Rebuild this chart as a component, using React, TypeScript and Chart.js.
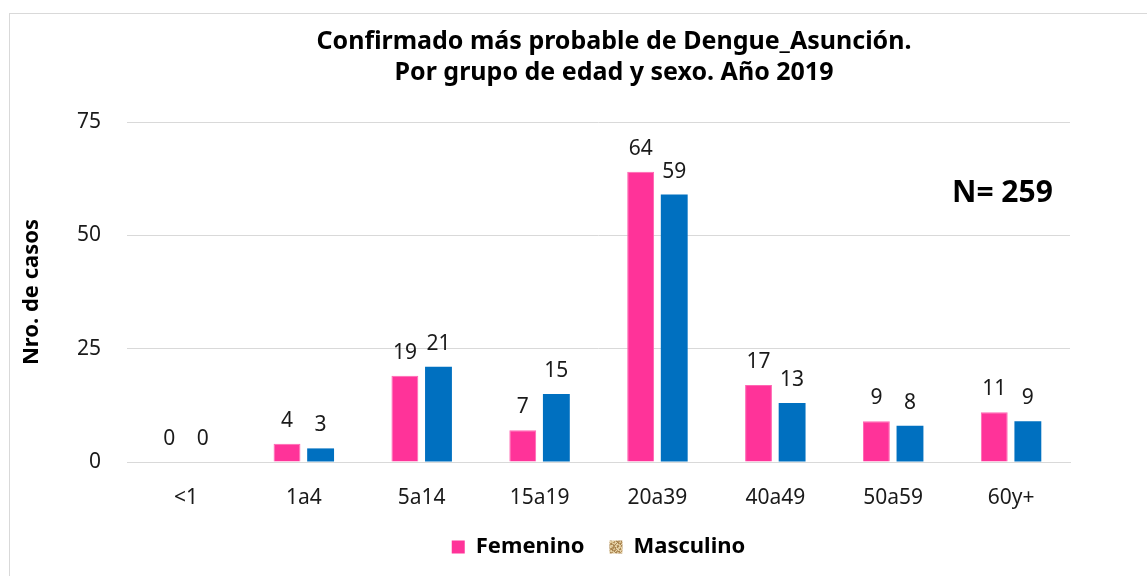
import React, { useEffect, useRef } from "react";
import { Chart, registerables } from "chart.js";

Chart.register(...registerables);

const categories = ["<1", "1a4", "5a14", "15a19", "20a39", "40a49", "50a59", "60y+"];
const femenino = [0, 4, 19, 7, 64, 17, 9, 11];
const masculino = [0, 3, 21, 15, 59, 13, 8, 9];
const yTicks = [0, 25, 50, 75];
const titleLines = ["Confirmado más probable de Dengue_Asunción.", "Por grupo de edad y sexo. Año 2019"];
const annotationText = "N= 259";
const seriesNames = ["Femenino", "Masculino"];

const FONT = "'Noto Sans', 'Open Sans', sans-serif";
const PINK = "#FF3399";
const BLUE = "#0070C0";

function makePattern(): CanvasPattern | string {
  const c = document.createElement("canvas");
  c.width = 13;
  c.height = 13;
  const g = c.getContext("2d");
  if (!g) return "#C8A878";
  const shades = ["#D8C090", "#B89460", "#E6D2A8", "#A88450"];
  for (let y = 0; y < 13; y++) {
    for (let x = 0; x < 13; x++) {
      g.fillStyle = shades[((x >> 1) + (y >> 1) * 3 + ((x * y) % 3)) % 4];
      g.fillRect(x, y, 1, 1);
    }
  }
  const ctx = document.createElement("canvas").getContext("2d");
  const p = ctx ? ctx.createPattern(c, "repeat") : null;
  return p || "#C8A878";
}

const decorPlugin = {
  id: "decor",
  beforeDraw(chart: any) {
    const ctx = chart.ctx;
    ctx.save();
    ctx.fillStyle = "#ffffff";
    ctx.fillRect(0, 0, chart.width, chart.height);
    ctx.strokeStyle = "#d9d9d9";
    ctx.lineWidth = 1;
    ctx.strokeRect(9.5, 13.5, 1400, 800);
    ctx.restore();
  },
  afterDraw(chart: any) {
    const ctx = chart.ctx;
    const area = chart.chartArea;
    ctx.save();
    // title
    ctx.fillStyle = "#000000";
    ctx.font = `bold 25px ${FONT}`;
    ctx.textAlign = "center";
    ctx.textBaseline = "middle";
    ctx.fillText(titleLines[0], 614, 42);
    ctx.fillText(titleLines[1], 614, 73);
    // annotation
    ctx.font = `bold 30px ${FONT}`;
    ctx.textAlign = "left";
    ctx.fillText(annotationText, area.right - 118, 193);
    // data labels
    ctx.font = `21px ${FONT}`;
    ctx.fillStyle = "#1a1a1a";
    ctx.textAlign = "center";
    ctx.textBaseline = "alphabetic";
    chart.data.datasets.forEach((ds: any, i: number) => {
      const meta = chart.getDatasetMeta(i);
      meta.data.forEach((bar: any, j: number) => {
        ctx.fillText(String(ds.data[j]), bar.x, bar.y - 17);
      });
    });
    ctx.restore();
  },
};

export default function App() {
  const ref = useRef<HTMLCanvasElement | null>(null);
  useEffect(() => {
    if (!ref.current) return;
    const pattern = makePattern();
    const chart = new Chart(ref.current, {
      type: "bar",
      data: {
        labels: categories,
        datasets: [
          {
            label: seriesNames[0],
            data: femenino,
            backgroundColor: PINK,
            borderColor: "#FF66B3",
            borderWidth: 1,
            categoryPercentage: 0.57,
            barPercentage: 0.8,
          },
          {
            label: seriesNames[1],
            data: masculino,
            backgroundColor: BLUE,
            borderColor: BLUE,
            borderWidth: 0,
            categoryPercentage: 0.57,
            barPercentage: 0.8,
          },
        ],
      },
      options: {
        animation: false,
        responsive: true,
        maintainAspectRatio: false,
        layout: { padding: { left: 9, right: 77, top: 122, bottom: 22 } },
        plugins: {
          title: { display: false },
          tooltip: { enabled: false },
          legend: {
            position: "bottom",
            fullSize: false,
            maxHeight: 43,
            labels: {
              font: { family: FONT, size: 22, weight: "bold" },
              color: "#000000",
              boxWidth: 13,
              boxHeight: 13,
              padding: 25,
              generateLabels: () => [
                { text: seriesNames[0], fillStyle: PINK, strokeStyle: PINK, lineWidth: 0, datasetIndex: 0, hidden: false },
                { text: seriesNames[1], fillStyle: pattern as any, strokeStyle: "rgba(0,0,0,0)", lineWidth: 0, datasetIndex: 1, hidden: false },
              ],
            },
          },
        },
        scales: {
          x: {
            grid: { display: false },
            border: { color: "#d9d9d9" },
            ticks: { font: { family: FONT, size: 21 }, color: "#1a1a1a", padding: 15 },
            afterFit: (s: any) => {
              s.height = 49;
            },
          },
          y: {
            min: 0,
            max: 75,
            afterBuildTicks: (s: any) => {
              s.ticks = yTicks.map((v) => ({ value: v }));
            },
            grid: { color: "#d9d9d9", drawTicks: false },
            border: { display: false },
            ticks: { font: { family: FONT, size: 21 }, color: "#1a1a1a", padding: 26 },
            title: {
              display: true,
              text: "Nro. de casos",
              font: { family: FONT, size: 22, weight: "bold" },
              color: "#000000",
              padding: { top: 10, bottom: 0 },
            },
            afterFit: (s: any) => {
              s.width = 118;
            },
          },
        },
      },
      plugins: [decorPlugin],
    });
    return () => chart.destroy();
  }, []);
  return (
    <div style={{ position: "fixed", left: 0, top: 0, width: 1147, height: 576, overflow: "hidden", background: "#fff" }}>
      <canvas ref={ref} />
    </div>
  );
}
